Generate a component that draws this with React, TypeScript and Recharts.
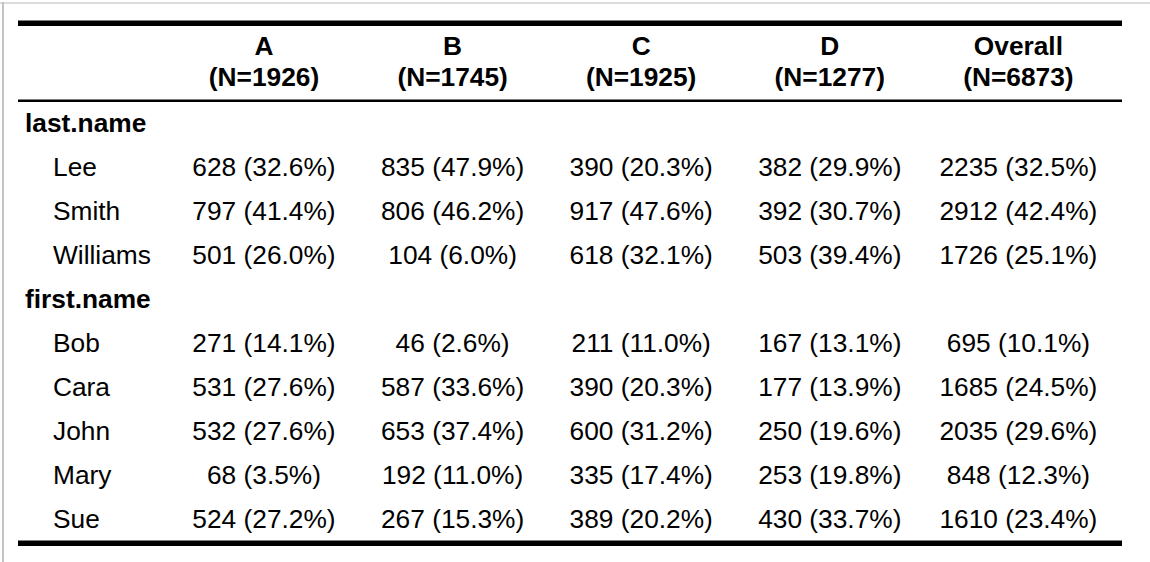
import React from "react";
import { ScatterChart, Scatter, XAxis, YAxis, Customized } from "recharts";

const columns = ["A", "B", "C", "D", "Overall"];
const columnN = [1926, 1745, 1925, 1277, 6873];

const groupLabels = ["last.name", "first.name"];
const lastNames = ["Lee", "Smith", "Williams"];
const firstNames = ["Bob", "Cara", "John", "Mary", "Sue"];

// counts per column, rows in order: Lee, Smith, Williams, Bob, Cara, John, Mary, Sue
const countsA = [628, 797, 501, 271, 531, 532, 68, 524];
const countsB = [835, 806, 104, 46, 587, 653, 192, 267];
const countsC = [390, 917, 618, 211, 390, 600, 335, 389];
const countsD = [382, 392, 503, 167, 177, 250, 253, 430];
const countsOverall = [2235, 2912, 1726, 695, 1685, 2035, 848, 1610];

const pctA = ["32.6", "41.4", "26.0", "14.1", "27.6", "27.6", "3.5", "27.2"];
const pctB = ["47.9", "46.2", "6.0", "2.6", "33.6", "37.4", "11.0", "15.3"];
const pctC = ["20.3", "47.6", "32.1", "11.0", "20.3", "31.2", "17.4", "20.2"];
const pctD = ["29.9", "30.7", "39.4", "13.1", "13.9", "19.6", "19.8", "33.7"];
const pctOverall = ["32.5", "42.4", "25.1", "10.1", "24.5", "29.6", "12.3", "23.4"];

const allCounts = [countsA, countsB, countsC, countsD, countsOverall];
const allPct = [pctA, pctB, pctC, pctD, pctOverall];

const FONT = "'Liberation Sans', Arial, Helvetica, sans-serif";
const SIZE = 26.3;

// table rows: group header followed by its levels
const rows: { label: string; group: boolean }[] = [
  { label: groupLabels[0], group: true },
  ...lastNames.map((l) => ({ label: l, group: false })),
  { label: groupLabels[1], group: true },
  ...firstNames.map((l) => ({ label: l, group: false })),
];

const cells: { x: number; y: number; text: string }[] = [];
let item = 0;
rows.forEach((r, ri) => {
  if (r.group) return;
  columns.forEach((_, ci) => {
    cells.push({
      x: ci + 1,
      y: ri,
      text: `${allCounts[ci][item]} (${allPct[ci][item]}%)`,
    });
  });
  item++;
});

const HeaderTick = (props: any) => {
  const { x, payload } = props;
  const i = payload.value - 1;
  return (
    <g>
      <text x={x} y={55} textAnchor='middle' fontFamily={FONT} fontSize={SIZE} fontWeight='bold' fill='#000'>
        {columns[i]}
      </text>
      <text x={x} y={86} textAnchor='middle' fontFamily={FONT} fontSize={SIZE} fontWeight='bold' fill='#000'>
        {`(N=${columnN[i]})`}
      </text>
    </g>
  );
};

const RowTick = (props: any) => {
  const { y, payload } = props;
  const r = rows[payload.value];
  if (!r) return null;
  return (
    <text
      x={r.group ? 25 : 53}
      y={y + 9}
      fontFamily={FONT}
      fontSize={SIZE}
      fontWeight={r.group ? "bold" : "normal"}
      fill='#000'
    >
      {r.label}
    </text>
  );
};

const CellShape = (props: any) => {
  const { cx, cy, payload } = props;
  return (
    <text x={cx} y={cy + 9} textAnchor='middle' fontFamily={FONT} fontSize={SIZE} fill='#000'>
      {payload.text}
    </text>
  );
};

const Rules = () => (
  <g>
    <rect x={0} y={2} width={1150} height={2} fill='#dcdcdc' />
    <rect x={2} y={2} width={2} height={560} fill='#c4c4c4' />
    <rect x={18} y={20.5} width={1104} height={5.5} fill='#000' />
    <rect x={18} y={99.5} width={1104} height={2.5} fill='#000' />
    <rect x={18} y={540.5} width={1104} height={5.5} fill='#000' />
  </g>
);

export default function App() {
  return (
    <div style={{ position: "absolute", top: 0, left: 0, background: "#fff" }}>
      <ScatterChart
        width={1150}
        height={562}
        margin={{ top: 0, right: 37.3, bottom: 21, left: 0 }}
      >
        <XAxis
          xAxisId={0}
          type='number'
          dataKey='x'
          orientation='top'
          domain={[0.5, 5.5]}
          ticks={[1, 2, 3, 4, 5]}
          height={101}
          axisLine={false}
          tickLine={false}
          tick={<HeaderTick />}
          interval={0}
        />
        <YAxis
          yAxisId={0}
          type='number'
          dataKey='y'
          domain={[-0.5, 9.5]}
          reversed
          ticks={[0, 1, 2, 3, 4, 5, 6, 7, 8, 9]}
          width={169.7}
          axisLine={false}
          tickLine={false}
          tick={<RowTick />}
          interval={0}
        />
        <Customized component={Rules} />
        <Scatter data={cells} shape={<CellShape />} isAnimationActive={false} />
      </ScatterChart>
    </div>
  );
}
